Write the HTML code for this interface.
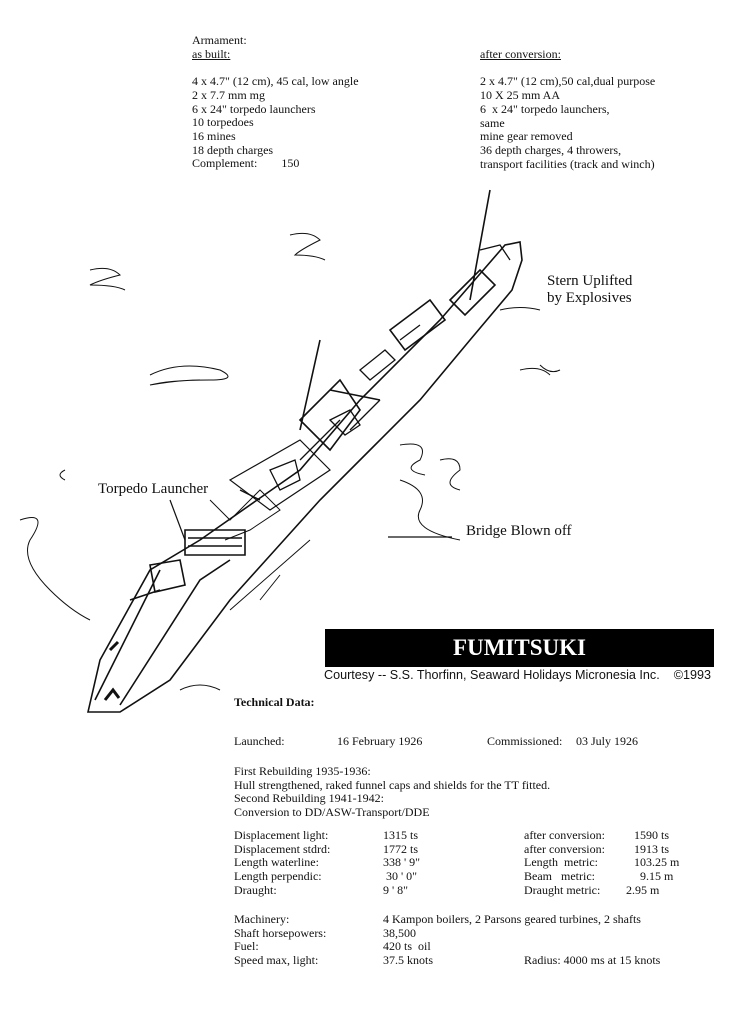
<!DOCTYPE html>
<html><head><meta charset="utf-8"><style>
body{margin:0;background:#fff;}
#p{position:relative;width:736px;height:1024px;overflow:hidden;background:#fff;font-family:"Liberation Serif",serif;color:#111;}
.t{position:absolute;font-size:12px;white-space:nowrap;line-height:13.7px;}
.l{position:absolute;font-size:15px;white-space:nowrap;font-family:"Liberation Serif",serif;}
</style></head><body><div id="p">
<div class="t" style="left:192px;top:34px">Armament:<br><u>as built:</u><br><br>4 x 4.7" (12 cm), 45 cal, low angle<br>2 x 7.7 mm mg<br>6 x 24" torpedo launchers<br>10 torpedoes<br>16 mines<br>18 depth charges<br>Complement:&nbsp;&nbsp;&nbsp;&nbsp;&nbsp;&nbsp;&nbsp;&nbsp;150</div>
<div class="t" style="left:480px;top:48px"><u>after conversion:</u><br><br>2 x 4.7" (12 cm),50 cal,dual purpose<br>10 X 25 mm AA<br>6&nbsp;&nbsp;x 24" torpedo launchers,<br>same<br>mine gear removed<br>36 depth charges, 4 throwers,<br>transport facilities (track and winch)</div>

<svg style="position:absolute;left:0;top:0" width="736" height="1024" fill="none" stroke="#111" stroke-width="1.6">
<path d="M88 712 L100 660 L150 570 L200 540 L300 470 L360 400 L440 320 L505 245 L520 242 L522 260 L512 290 L470 340 L420 400 L370 450 L320 500 L275 550 L230 600 L170 680 L120 712 Z"/>
<path d="M95 700 L160 570 M120 705 L200 580 L230 560"/>
<path d="M185 530 L245 530 L245 555 L185 555 Z M188 538 L242 538 M188 546 L242 546"/>
<path d="M150 565 L180 560 L185 585 L155 592 Z M130 600 L160 590"/>
<path d="M230 480 L300 440 L330 470 L270 510 Z" stroke-width="1.2"/>
<path d="M300 420 L340 380 L360 410 L330 450 Z M320 340 L300 430 M330 390 L380 400"/>
<path d="M390 330 L430 300 L445 320 L405 350 Z M450 300 L480 270 L495 285 L465 315 Z M490 190 L470 300"/>
<path d="M210 500 L230 520 L260 490 L280 510 L250 530 L225 540" stroke-width="1"/>
<path d="M230 610 L310 540 M260 600 L280 575" stroke-width="1"/>
<path d="M330 420 l20 -10 l10 15 l-15 10 z M360 370 l25 -20 l10 10 l-25 20 z M400 340 l20 -15 M270 470 l25 -10 l5 20 l-20 10 z M240 490 l20 10 M480 250 l20 -5 l10 15 M350 430 l30 -30 M300 460 l40 -40" stroke-width="1.3"/>
<path d="M105 700 l8 -10 l6 8 M110 650 l8 -8" stroke-width="3"/>
<path d="M90 270 q20 -5 30 5 q-20 5 -30 10 q25 0 35 5 M290 235 q20 -5 30 5 q-20 10 -25 15 q20 0 30 5 M150 375 q30 -15 70 -5 q20 10 -10 10 q-40 0 -60 5 q30 -5 50 -5 M65 470 q-10 5 0 10 M20 520 q30 -10 10 20 q-10 20 20 50 q20 20 40 30 M400 445 q30 -5 20 15 q-20 10 5 15 M440 460 q20 -5 20 10 q-20 15 0 20 M400 480 q30 10 20 30 q-10 20 40 30 M520 370 q20 -5 30 5 M540 365 q10 10 20 5 M500 310 q20 -5 40 0 M180 690 q20 -10 40 0" stroke-width="1"/>
<path d="M388 537 L452 537" stroke-width="1.2"/>
<path d="M170 500 L185 540" stroke-width="1.2"/>
</svg>

<div class="l" style="left:547px;top:273px">Stern Uplifted</div>
<div class="l" style="left:547px;top:290px">by Explosives</div>
<div class="l" style="left:98px;top:481px">Torpedo Launcher</div>
<div class="l" style="left:466px;top:523px">Bridge Blown off</div>

<div style="position:absolute;left:325px;top:629px;width:389px;height:38px;background:#000;color:#fff;font:bold 23px 'Liberation Serif',serif;text-align:center;line-height:38px;">FUMITSUKI</div>
<div style="position:absolute;left:324px;top:668px;font:12.6px 'Liberation Sans',sans-serif;white-space:nowrap">Courtesy -- S.S. Thorfinn, Seaward Holidays Micronesia Inc.&nbsp;&nbsp;&nbsp;&nbsp;©1993</div>
<div class="t" style="left:234px;top:696px;font-weight:bold">Technical Data:</div>
<div class="t" style="left:234px;top:735px">Launched:</div>
<div class="t" style="left:337px;top:735px">16 February 1926</div>
<div class="t" style="left:487px;top:735px">Commissioned:</div>
<div class="t" style="left:576px;top:735px">03 July 1926</div>
<div class="t" style="left:234px;top:765px">First Rebuilding 1935-1936:<br>Hull strengthened, raked funnel caps and shields for the TT fitted.<br>Second Rebuilding 1941-1942:<br>Conversion to DD/ASW-Transport/DDE</div>
<div class="t" style="left:234px;top:829px">Displacement light:<br>Displacement stdrd:<br>Length waterline:<br>Length perpendic:<br>Draught:</div>
<div class="t" style="left:383px;top:829px">1315 ts<br>1772 ts<br>338 ' 9"<br>&nbsp;30 ' 0"<br>9 ' 8"</div>
<div class="t" style="left:524px;top:829px">after conversion:<br>after conversion:<br>Length&nbsp; metric:<br>Beam&nbsp;&nbsp; metric:<br>Draught metric:</div>
<div class="t" style="left:634px;top:829px">1590 ts<br>1913 ts<br>103.25 m<br>&nbsp;&nbsp;9.15 m</div>
<div class="t" style="left:626px;top:884px">2.95 m</div>
<div class="t" style="left:234px;top:913px">Machinery:<br>Shaft horsepowers:<br>Fuel:<br>Speed max, light:</div>
<div class="t" style="left:383px;top:913px">4 Kampon boilers, 2 Parsons geared turbines, 2 shafts<br>38,500<br>420 ts&nbsp; oil<br>37.5 knots</div>
<div class="t" style="left:524px;top:954px">Radius: 4000 ms at 15 knots</div>
</div></body></html>
